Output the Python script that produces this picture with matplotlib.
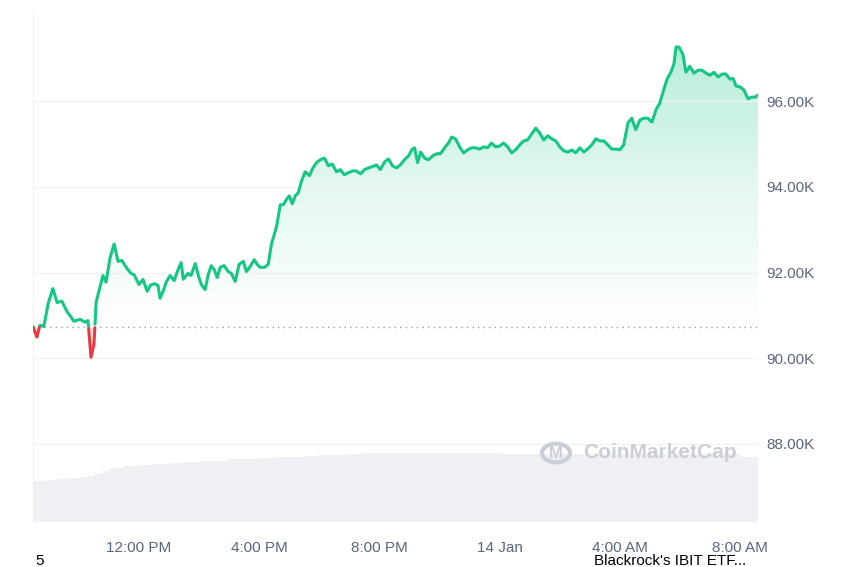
import numpy as np
import matplotlib.pyplot as plt
from matplotlib.patches import Circle
from matplotlib.colors import LinearSegmentedColormap

plt.rcParams['font.family'] = ['Liberation Sans', 'DejaVu Sans']

hours = [8.47,8.60,8.70,8.83,8.97,9.13,9.27,9.43,9.60,9.70,9.83,10.03,10.20,10.30,10.40,10.50,10.57,10.70,10.80,10.90,
11.03,11.17,11.30,11.43,11.57,11.73,11.83,12.00,12.13,12.27,12.37,12.50,12.63,12.70,12.80,12.90,13.03,13.17,13.27,13.40,
13.47,13.63,13.73,13.87,13.97,14.07,14.20,14.30,14.40,14.50,14.60,14.70,14.83,14.97,15.07,15.20,15.33,15.47,15.57,15.70,
15.83,15.93,16.03,16.17,16.30,16.40,16.57,16.70,16.80,16.90,17.00,17.10,17.20,17.30,17.40,17.53,17.67,17.77,17.90,18.03,
18.17,18.30,18.43,18.57,18.70,18.83,18.97,19.10,19.23,19.37,19.50,19.63,19.77,19.90,20.03,20.17,20.30,20.43,20.57,20.70,
20.83,20.97,21.07,21.17,21.27,21.37,21.50,21.63,21.77,21.90,22.03,22.17,22.30,22.40,22.53,22.67,22.80,22.93,23.07,23.20,
23.33,23.47,23.60,23.73,23.87,24.00,24.13,24.27,24.40,24.53,24.67,24.80,24.93,25.07,25.20,25.33,25.47,25.60,25.73,25.87,
26.00,26.13,26.27,26.40,26.53,26.67,26.80,26.93,27.07,27.20,27.33,27.47,27.60,27.73,27.87,28.00,28.13,28.27,28.40,28.53,
28.67,28.80,28.93,29.07,29.20,29.33,29.47,29.57,29.70,29.80,29.87,29.97,30.10,30.20,30.33,30.47,30.60,30.73,30.87,31.00,
31.13,31.27,31.40,31.53,31.67,31.77,31.87,32.00,32.13,32.27,32.37,32.50,32.60]
price_k = [90.74,90.49,90.77,90.74,91.26,91.63,91.30,91.33,91.09,91.00,90.86,90.91,90.84,90.88,90.02,90.33,91.30,91.67,91.93,91.77,
92.33,92.67,92.26,92.28,92.12,91.98,91.95,91.72,91.84,91.56,91.70,91.74,91.70,91.40,91.56,91.77,91.93,91.81,92.02,92.23,
91.84,91.98,91.93,92.21,91.93,91.72,91.60,91.95,92.16,92.07,91.88,92.12,92.16,92.02,91.98,91.79,92.19,92.26,92.02,92.14,
92.30,92.19,92.12,92.12,92.19,92.65,93.05,93.58,93.58,93.70,93.79,93.60,93.79,93.86,94.12,94.35,94.26,94.42,94.56,94.63,
94.67,94.49,94.53,94.35,94.40,94.28,94.33,94.37,94.37,94.30,94.40,94.44,94.47,94.51,94.40,94.58,94.65,94.49,94.44,94.51,
94.63,94.72,94.86,94.91,94.56,94.81,94.67,94.63,94.72,94.77,94.77,94.91,95.02,95.16,95.12,94.93,94.79,94.86,94.91,94.91,
94.88,94.93,94.91,95.02,94.93,94.95,95.02,94.93,94.79,94.86,94.98,95.07,95.09,95.23,95.37,95.26,95.09,95.19,95.12,95.07,
94.93,94.84,94.81,94.86,94.79,94.91,94.81,94.88,94.98,95.12,95.07,95.07,94.98,94.88,94.88,94.86,94.98,95.49,95.60,95.33,
95.56,95.60,95.60,95.51,95.79,95.95,96.28,96.51,96.67,96.86,97.26,97.26,97.09,96.67,96.81,96.65,96.72,96.72,96.65,96.60,
96.67,96.56,96.63,96.63,96.51,96.53,96.35,96.33,96.26,96.05,96.09,96.09,96.14]
baseline_k = 90.72

vol_hours = [8.47,8.9,9.3,9.7,10.0,10.3,10.5,10.8,11.0,11.5,12.0,12.5,13.0,13.5,14.0,15.0,16.0,16.5,17.5,18.0,19.0,19.5,21.0,24.0,28.0,31.5,32.0,32.6]
volume = [41,42,43,44,45,46,48,51,54,56,57,58,59,60,61,63,64,65,66,67,68,69,69,68,68,68,65,65]

yticks = [88, 90, 92, 94, 96]
xticks = [12, 16, 20, 24, 28, 32]
xlabels = ["12:00 PM", "4:00 PM", "8:00 PM", "14 Jan", "4:00 AM", "8:00 AM"]

GREEN = "#16c784"; RED = "#ea3943"
fig = plt.figure(figsize=(8.5, 5.67), dpi=100)
ax = fig.add_axes([33/850, 1-522/567, 725/850, 508/567])
x0, x1 = hours[0], hours[-1]
ax.set_xlim(x0, x1)
ax.set_ylim(86.18, 98.03)

axv = ax.twinx()
axv.set_ylim(0, 508)
axv.fill_between(vol_hours, volume, step="post", color="#eef0f4", lw=0)
axv.set_yticks([])
for s in axv.spines.values(): s.set_visible(False)
ax.set_zorder(axv.get_zorder()+1); ax.patch.set_visible(False)

h = np.array(hours); p = np.array(price_k)
xf = np.linspace(x0, x1, 4000)
yf = np.interp(xf, h, p)

grad = np.linspace(0, 1, 256).reshape(-1, 1)
cmap = LinearSegmentedColormap.from_list("g", [(0.086,0.78,0.52,0.0), (0.086,0.78,0.52,0.12), (0.086,0.78,0.52,0.32)])
im = ax.imshow(grad, extent=[x0, x1, baseline_k, 97.3], origin="lower", aspect="auto", cmap=cmap, zorder=1)
poly = ax.fill_between(xf, np.maximum(yf, baseline_k), baseline_k, color="none", lw=0)
im.set_clip_path(poly.get_paths()[0], transform=ax.transData)
ax.fill_between(xf, np.minimum(yf, baseline_k), baseline_k, color=RED, alpha=0.12, lw=0)

ax.plot(xf, np.where(yf >= baseline_k, yf, np.nan), color=GREEN, lw=2.2, zorder=3, solid_capstyle="round")
ax.plot(xf, np.where(yf <= baseline_k, yf, np.nan), color=RED, lw=2.2, zorder=3, solid_capstyle="round")
ax.axhline(baseline_k, color="#9aa0a8", lw=1, ls=(0, (1, 3)), zorder=2)

ax.set_yticks(yticks)
ax.set_yticklabels([f"{v:.2f}K" for v in yticks])
ax.yaxis.tick_right()
ax.set_xticks(xticks); ax.set_xticklabels(xlabels)
ax.tick_params(length=0, labelsize=11, colors="#58667e", pad=6)
ax.tick_params(axis="x", pad=14)
ax.grid(axis="y", color="#eff2f5", lw=1)
for k, s in ax.spines.items():
    s.set_visible(k == "left")
ax.spines["left"].set_color("#eff2f5")

fig.text(583/850, 1-453/567, "CoinMarketCap", fontsize=15, color="#c9ced8", ha="left", va="center", fontweight="bold")
fig.patches.append(Circle((556/850, 1-453/567), 14/850, transform=fig.transFigure, fill=False, ec="#c9ced8", lw=3))
fig.text(556/850, 1-453/567, "M", fontsize=12, color="#c9ced8", ha="center", va="center", fontweight="bold")
fig.text(35/850, 1-561/567, "5", fontsize=11, color="black", va="center")
fig.text(594/850, 1-561/567, "Blackrock's IBIT ETF...", fontsize=11, color="black", va="center")
fig.savefig("out.png", dpi=100)
